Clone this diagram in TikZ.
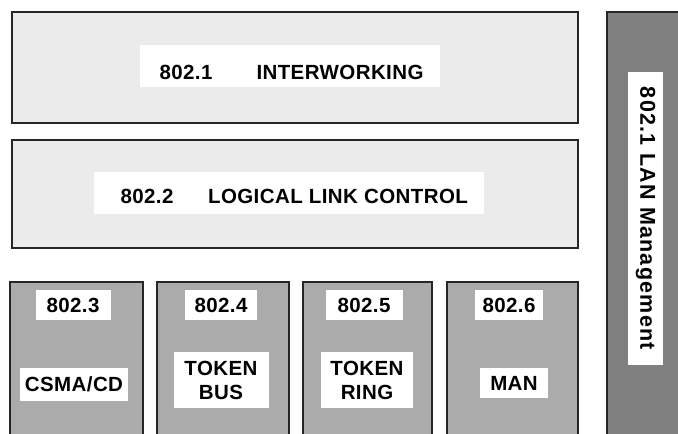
\documentclass[tikz,border=0pt]{standalone}
\usepackage{fontspec}
\setmainfont{Liberation Sans}[LetterSpace=2]
\begin{document}
\begin{tikzpicture}[x=1pt,y=-1pt,
  layer/.style={draw=black!85,line width=1.4pt,fill=black!8},
  sub/.style={draw=black!85,line width=1.4pt,fill=black!33},
  mgmt/.style={draw=black!85,line width=1.4pt,fill=black!50},
  lab/.style={fill=white,font=\fontsize{20.5}{24}\selectfont\bfseries,inner sep=0pt,align=center}]
\useasboundingbox (0,0) rectangle (678,434);
% top layers
\draw[layer] (12,12) rectangle (578,123);
\node[lab,minimum width=300,minimum height=42] (w1) at (290,66) {};
\node[lab,anchor=base] (t1a) at (186,79) {802.1};
\node[lab,anchor=base] (t1b) at (340,79) {INTERWORKING};
\draw[layer] (12,140) rectangle (578,248);
\node[lab,minimum width=390,minimum height=42] (w2) at (289,193) {};
\node[lab,anchor=base] (t2a) at (147,203) {802.2};
\node[lab,anchor=base] (t2b) at (338,203) {LOGICAL LINK CONTROL};
% MAC boxes
\draw[sub] (10,282) rectangle (143,440);
\draw[sub] (157,282) rectangle (289,440);
\draw[sub] (303,282) rectangle (432,440);
\draw[sub] (447,282) rectangle (578,440);
\node[lab,minimum width=75,minimum height=30] (a1) at (73,305) {802.3};
\node[lab,minimum width=108,minimum height=33] (a2) at (74,384) {CSMA/CD};
\node[lab,minimum width=72,minimum height=30] (b1) at (221,305) {802.4};
\node[lab,minimum width=95,minimum height=56] (b2) at (221,380) {TOKEN\\BUS};
\node[lab,minimum width=77,minimum height=30] (c1) at (364,305) {802.5};
\node[lab,minimum width=92,minimum height=56] (c2) at (367,380) {TOKEN\\RING};
\node[lab,minimum width=68,minimum height=30] (d1) at (509,305) {802.6};
\node[lab,minimum width=68,minimum height=30] (d2) at (514,383) {MAN};
% management column
\draw[mgmt] (607,12) rectangle (684,440);
\node[lab,minimum width=293,minimum height=35,rotate=-90,font=\fontsize{21.5}{24}\selectfont\bfseries\addfontfeature{LetterSpace=6}] (m) at (645.5,218.5) {802.1 LAN Management};
\end{tikzpicture}
\end{document}
